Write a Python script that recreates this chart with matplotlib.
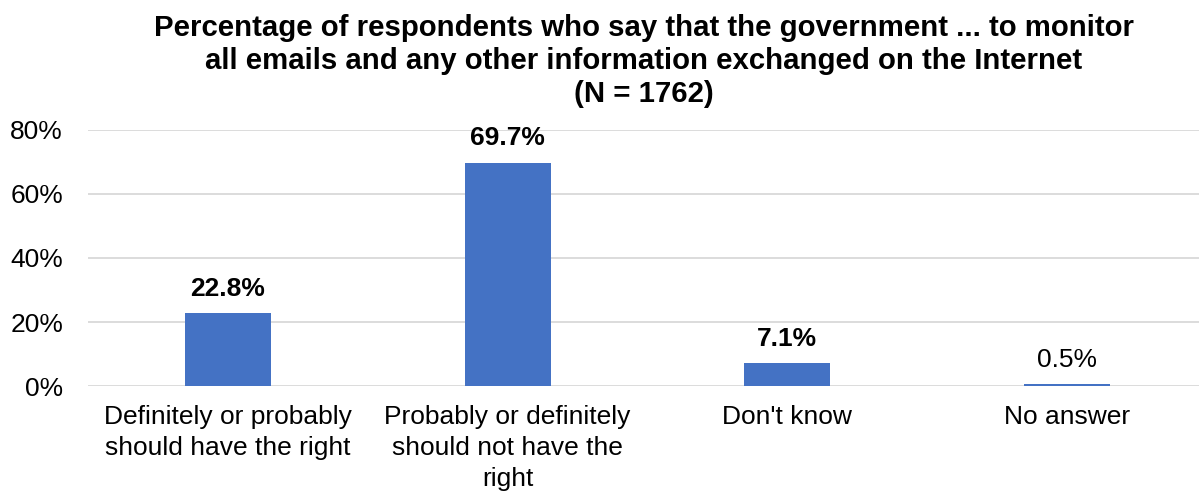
import matplotlib
matplotlib.use("Agg")
import matplotlib.pyplot as plt

categories = ["Definitely or probably\nshould have the right",
              "Probably or definitely\nshould not have the\nright",
              "Don't know", "No answer"]
values = [22.8, 69.7, 7.1, 0.5]
labels = ["22.8%", "69.7%", "7.1%", "0.5%"]
bold_label = [True, True, True, False]
yticks = [0, 20, 40, 60, 80]
ytick_labels = ["0%", "20%", "40%", "60%", "80%"]

plt.rcParams['font.family'] = ['Liberation Sans', 'DejaVu Sans']

fig = plt.figure(figsize=(11.99, 4.92), dpi=100)
ax = fig.add_axes([88/1199, 1-386/492, 1-88/1199, (386-130)/492])
x = list(range(len(categories)))
ax.bar(x, values, width=0.307, color="#4472C4", zorder=3)
ax.set_xlim(-0.5, 3.5 - 8/280)
ax.set_ylim(0, 80)
ax.set_yticks(yticks)
ax.set_yticklabels(ytick_labels, fontsize=19)
ax.set_xticks(x)
ax.set_xticklabels(categories, fontsize=19, linespacing=1.36)
ax.tick_params(axis='both', length=0, colors="#000000")
ax.tick_params(axis='y', pad=18)
ax.tick_params(axis='x', pad=14)
for s in ax.spines.values():
    s.set_visible(False)
ax.yaxis.grid(True, color="#D9D9D9", linewidth=1.3, zorder=0)
for xi, v, lab, b in zip(x, values, labels, bold_label):
    ax.annotate(lab, (xi, v), xytext=(0, 9), textcoords="offset points",
                ha="center", va="bottom", fontsize=19,
                fontweight="bold" if b else "normal")
fig.text(0.537, 0.971,
         "Percentage of respondents who say that the government ... to monitor\n"
         "all emails and any other information exchanged on the Internet\n(N = 1762)",
         ha="center", va="top", fontsize=21.2, fontweight="bold", linespacing=1.22)
fig.savefig("out.png", dpi=100)
